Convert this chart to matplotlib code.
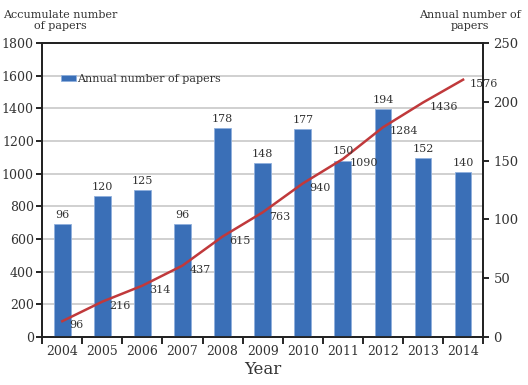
import numpy as np
from matplotlib import pyplot as plt

plt.rcParams['font.family'] = ['DejaVu Serif']

# 数据
years = ['2004', '2005', '2006', '2007', '2008', '2009', '2010', '2011', '2012', '2013', '2014']
annual = [96, 120, 125, 96, 178, 148, 177, 150, 194, 152, 140]
accumulate = [96, 216, 314, 437, 615, 763, 940, 1090, 1284, 1436, 1576]

bar_color = '#3a6fb7'
line_color = '#c0393b'
text_color = '#333333'

fig = plt.figure(figsize=(5.28, 3.85), dpi=100)
ax = fig.add_axes([0.08, 0.125, 0.835, 0.763])
ax2 = ax.twinx()

x = np.arange(len(years))

# 左轴: 累计数量 (折线)
ax.set_ylim(0, 1800)
ax.set_yticks(range(0, 1801, 200))
ax.set_xlim(-0.5, len(years) - 0.5)
ax.grid(axis='y', color='#c8c8c8', linewidth=1.2)
ax.set_axisbelow(True)

# 右轴: 年度数量 (柱状)
ax2.set_ylim(0, 250)
ax2.set_yticks(range(0, 251, 50))
bars = ax2.bar(x, annual, width=0.42, color=bar_color, edgecolor='#8fb0dd',
               linewidth=0.6, label='Annual number of papers')
for xi, v in zip(x, annual):
    ax2.annotate(str(v), (xi, v), xytext=(0, 3), textcoords='offset points',
                 ha='center', va='bottom', fontsize=8, color=text_color)

# 折线画在柱子上面
ax2.plot(x, np.array(accumulate) / 1800 * 250, color=line_color, linewidth=1.8)
for xi, v in zip(x, accumulate):
    ax2.annotate(str(v), (xi, v / 1800 * 250), xytext=(5, -3), textcoords='offset points',
                 ha='left', va='center', fontsize=8, color=text_color)

# x轴刻度放在类别之间
ax.set_xticks(x)
ax.set_xticklabels(years, fontsize=9, color=text_color)
ax.tick_params(axis='x', length=0, pad=6)
ax.set_xticks(np.arange(-0.5, len(years), 1), minor=True)
ax.tick_params(axis='x', which='minor', length=5, width=1.2, direction='out', color='black')
ax.tick_params(axis='y', labelsize=9, labelcolor=text_color, length=4, width=1.2, pad=2)
ax2.tick_params(axis='y', labelsize=9.5, labelcolor=text_color, length=4, width=1.2)

for a in (ax, ax2):
    for s in a.spines.values():
        s.set_linewidth(1.3)
        s.set_color('#222222')

ax.set_xlabel('Year', fontsize=12, color=text_color, labelpad=2)

fig.text(0.115, 0.947, 'Accumulate number\nof papers', ha='center', va='center',
         fontsize=8, color=text_color, linespacing=1.1)
fig.text(0.89, 0.947, 'Annual number of\npapers', ha='center', va='center',
         fontsize=8, color=text_color, linespacing=1.1)

ax2.legend(loc='upper left', bbox_to_anchor=(0.02, 0.93), frameon=False, fontsize=8,
           handlelength=1.3, handleheight=0.4, handletextpad=0.1, labelcolor=text_color)

plt.savefig('out.png', dpi=100)
